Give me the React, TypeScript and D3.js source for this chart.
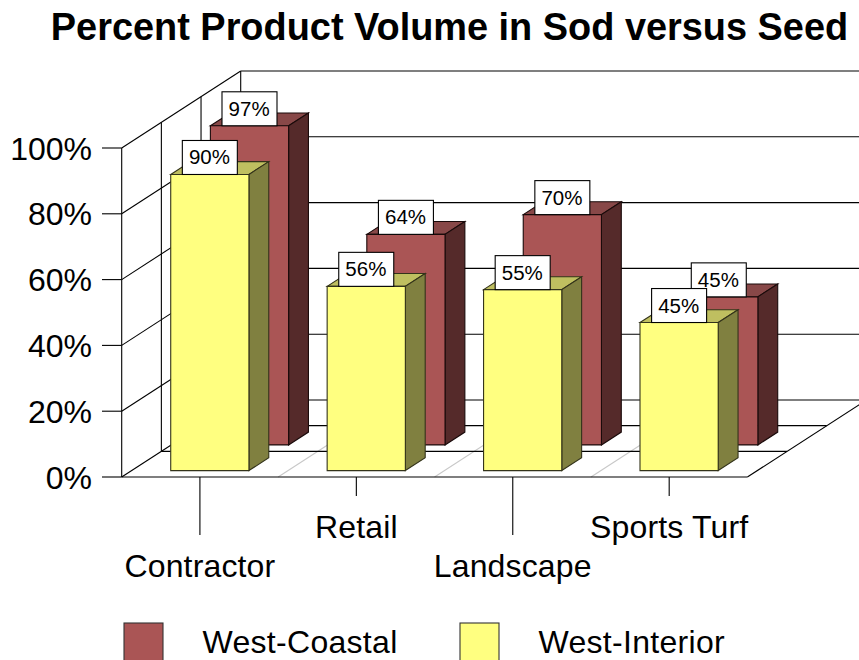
import React from "react";
import * as d3 from "d3";

const categories = ["Contractor", "Retail", "Landscape", "Sports Turf"];
const westCoastal = [97, 64, 70, 45];
const westInterior = [90, 56, 55, 45];
const yTicks = [0, 20, 40, 60, 80, 100];
const depthRows = [1 / 3, 2 / 3];

const FONT = "'Liberation Sans', Arial, sans-serif";
const x = d3.scaleLinear().domain([0, 4]).range([121.7, 747.4]);
const y = d3.scaleLinear().domain([0, 100]).range([477, 148]);
const zx = d3.scaleLinear().domain([0, 1]).range([0, 119]);
const zy = d3.scaleLinear().domain([0, 1]).range([0, -77]);
const px = (c: number, z: number) => x(c) + zx(z);
const py = (v: number, z: number) => y(v) + zy(z);
const pt = (c: number, v: number, z: number) => `${px(c, z)},${py(v, z)}`;
const LW = 1.1;

function Line({ a, b, stroke = "#000" }: { a: [number, number]; b: [number, number]; stroke?: string }) {
  return <line x1={a[0]} y1={a[1]} x2={b[0]} y2={b[1]} stroke={stroke} strokeWidth={LW} />;
}

type Colors = { front: string; top: string; side: string; edge: string };

function Bars({ values, z0, z1, colors }: { values: number[]; z0: number; z1: number; colors: Colors }) {
  return (
    <g>
      {values.map((v, i) => {
        const c0 = i + 0.25;
        const c1 = i + 0.75;
        const cx = (px(c0, z0) + px(c1, z0)) / 2;
        const top = py(v, z0);
        return (
          <g key={i}>
            <polygon points={[pt(c0, v, z0), pt(c0, v, z1), pt(c1, v, z1), pt(c1, v, z0)].join(" ")} fill={colors.top} stroke={colors.edge} strokeWidth={LW} />
            <polygon points={[pt(c1, 0, z0), pt(c1, 0, z1), pt(c1, v, z1), pt(c1, v, z0)].join(" ")} fill={colors.side} stroke={colors.edge} strokeWidth={LW} />
            <polygon points={[pt(c0, 0, z0), pt(c1, 0, z0), pt(c1, v, z0), pt(c0, v, z0)].join(" ")} fill={colors.front} stroke={colors.edge} strokeWidth={LW} />
            <rect x={cx - 27.5} y={top - 34} width={55} height={34} fill="#fff" stroke="#000" strokeWidth={LW} />
            <text x={cx - 0.4} y={top - 10} textAnchor="middle" fontSize={20.5} fontFamily={FONT} fill="#000">{v}%</text>
          </g>
        );
      })}
    </g>
  );
}

export default function App() {
  const legend = [
    { label: "West-Coastal", fill: "#AA5555", sx: 124, tx: 202.5 },
    { label: "West-Interior", fill: "#FFFF80", sx: 460, tx: 538.5 },
  ];
  return (
    <svg width={859} height={660} style={{ position: "absolute", left: 0, top: 0, display: "block", background: "#fff" }}>
      <text x={449.5} y={40} textAnchor="middle" fontFamily={FONT} fontWeight={700} fontSize={37.9} fill="#000">Percent Product Volume in Sod versus Seed</text>

      {/* walls */}
      {yTicks.map((t) => (
        <g key={t}>
          <Line a={[102, y(t)]} b={[x(0), y(t)]} />
          <Line a={[x(0), y(t)]} b={[px(0, 1), py(t, 1)]} />
          <Line a={[px(0, 1), py(t, 1)]} b={[px(4, 1), py(t, 1)]} />
          <text x={92} y={y(t) + 11.5} textAnchor="end" fontFamily={FONT} fontSize={32} fill="#000">{t}%</text>
        </g>
      ))}
      {[0, ...depthRows, 1].map((z) => (
        <Line key={z} a={[px(0, z), py(0, z)]} b={[px(0, z), py(100, z)]} />
      ))}
      {/* floor */}
      {[1, 2, 3].map((c) => (
        <Line key={c} a={[px(c, 0), py(0, 0)]} b={[px(c, 1), py(0, 1)]} stroke="#c8c8c8" />
      ))}
      {depthRows.map((z) => (
        <Line key={z} a={[px(0, z), py(0, z)]} b={[px(4, z), py(0, z)]} />
      ))}
      <Line a={[x(0), y(0)]} b={[x(4), y(0)]} />
      <Line a={[x(4), y(0)]} b={[px(4, 1), py(0, 1)]} />

      {/* category ticks and labels */}
      {categories.map((c, i) => {
        const cx = x(i + 0.5);
        const low = i % 2 === 0;
        return (
          <g key={c}>
            <Line a={[cx, y(0)]} b={[cx, low ? 535 : 496]} />
            <text x={cx} y={low ? 577 : 538} textAnchor="middle" fontFamily={FONT} fontSize={32} letterSpacing={0.15} fill="#000">{c}</text>
          </g>
        );
      })}

      <Bars values={westCoastal} z0={5 / 12} z1={7 / 12} colors={{ front: "#AA5555", top: "#884848", side: "#552A2A", edge: "#1a0a0a" }} />
      <Bars values={westInterior} z0={1 / 12} z1={3 / 12} colors={{ front: "#FFFF80", top: "#BFBF60", side: "#808040", edge: "#33331a" }} />

      {legend.map((l) => (
        <g key={l.label}>
          <rect x={l.sx} y={623} width={39} height={50} fill={l.fill} stroke="#333" strokeWidth={LW} />
          <text x={l.tx} y={653} fontFamily={FONT} fontSize={32} letterSpacing={0.3} fill="#000">{l.label}</text>
        </g>
      ))}
    </svg>
  );
}
